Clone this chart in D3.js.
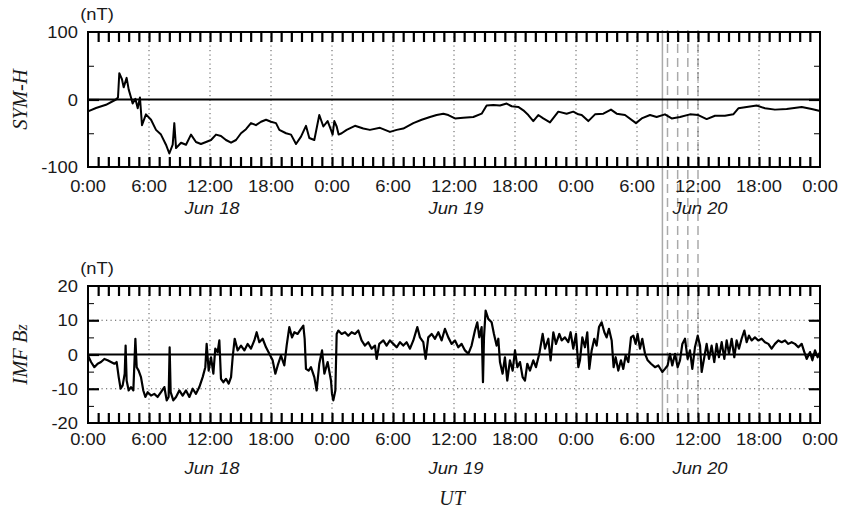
<!DOCTYPE html>
<html><head><meta charset="utf-8">
<script src="https://cdn.jsdelivr.net/npm/d3@7"></script>
<style>body{margin:0;background:#fff}</style>
</head><body><svg id="c" width="845" height="512"></svg>
<script>
// ---- data (hours since Jun 18 00:00 UT, value in nT) ----
const symhData = [[0,-17.5],[0.79,-12.6],[1.77,-7.8],[2.75,0],[2.95,3],[3.08,39],[3.34,30],[3.51,18],[3.8,32],[4.0,15],[4.23,3],[4.39,-6],[4.66,1],[4.89,-13],[5.11,3],[5.31,-38],[5.7,-22],[6.2,-30],[6.69,-45],[7.18,-52],[7.67,-67],[8.0,-80],[8.33,-67],[8.49,-35],[8.66,-72],[9.15,-64],[9.64,-67],[10.13,-52],[10.62,-63],[11.11,-66],[11.61,-63],[12.1,-60],[12.59,-52],[13.08,-54],[13.57,-60],[14.07,-64],[14.56,-60],[15.05,-50],[15.54,-44],[16.03,-35],[16.52,-38],[17.02,-33],[17.51,-30],[18.0,-33],[18.49,-35],[18.82,-45],[19.48,-50],[19.97,-52],[20.46,-66],[20.95,-55],[21.44,-39],[21.77,-57],[22.26,-60],[22.75,-23],[23.15,-40],[23.57,-32],[23.9,-45],[24.06,-52],[24.23,-32],[24.46,-40],[24.65,-52],[24.95,-50],[25.44,-45],[26.26,-39],[27.08,-43],[27.73,-45],[28.72,-42],[29.7,-48],[30.36,-45],[31.01,-43],[32.0,-35],[32.82,-30],[33.64,-26],[34.29,-23],[34.95,-21],[35.44,-23],[36.1,-28],[36.91,-27],[37.9,-26],[38.72,-21],[39.21,-9],[39.87,-8],[40.52,-9],[41.18,-6],[41.67,-10],[42.32,-11],[42.82,-16],[43.31,-23],[43.8,-32],[44.29,-23],[44.78,-28],[45.44,-34],[46.26,-18],[47.08,-21],[47.73,-18],[48.23,-22],[48.56,-23],[49.21,-32],[49.87,-22],[50.69,-21],[51.44,-15],[52.0,-21],[52.82,-23],[53.9,-35],[54.46,-28],[55.28,-23],[55.93,-26],[56.75,-22],[57.41,-28],[58.23,-26],[59.21,-22],[60.03,-23],[60.85,-29],[61.67,-24],[62.65,-24],[63.47,-22],[63.97,-13],[64.79,-11],[65.77,-9],[66.59,-13],[67.57,-15],[68.72,-14],[70.2,-11],[71.18,-14],[72,-17]];

const bzData = [[0,-0.3],[0.3,-2.2],[0.62,-3.7],[0.95,-2.7],[1.28,-2.2],[1.61,-1.3],[1.93,-1.7],[2.26,-2.2],[2.59,-2.7],[2.82,-2.2],[3.02,-6.6],[3.21,-10],[3.41,-9],[3.61,-5.6],[3.7,2.6],[3.8,-7.6],[4.0,-10.5],[4.23,-9.5],[4.46,-10.5],[4.66,4.6],[4.79,-3.7],[4.98,-4.7],[5.21,-6.6],[5.44,-10.5],[5.64,-12.4],[5.87,-11],[6.2,-12],[6.52,-11.5],[6.85,-12.4],[7.18,-11],[7.51,-9.5],[7.74,-13.4],[7.93,-12.4],[8.03,2.1],[8.13,-11],[8.39,-13.4],[8.66,-12.4],[8.98,-10.5],[9.31,-12],[9.64,-10.5],[9.97,-12.4],[10.3,-10],[10.62,-11.5],[10.95,-9.5],[11.28,-6.6],[11.54,-3.7],[11.67,3.1],[11.87,-4.7],[12.1,-0.8],[12.33,-5.6],[12.52,1.7],[12.75,0.7],[12.92,4.1],[13.08,-7.1],[13.31,-8.1],[13.57,-7.1],[13.84,-8.5],[14.07,-6.6],[14.23,-0.8],[14.43,4.6],[14.72,1.2],[15.05,2.6],[15.38,1.2],[15.7,3.1],[16.03,1.7],[16.36,4.1],[16.59,6.5],[16.85,3.6],[17.18,4.6],[17.51,2.1],[17.84,0.2],[18.16,-1.7],[18.43,-5.6],[18.66,-3.2],[18.98,-0.3],[19.31,-3.2],[19.54,2.6],[19.8,8],[20.07,5],[20.3,6.5],[20.62,6],[20.95,7.5],[21.18,8.4],[21.31,4.6],[21.44,-4.2],[21.7,-4.7],[21.93,-3.7],[22.26,-6.6],[22.49,-10.5],[22.75,-2.7],[23.02,1.2],[23.25,-5.6],[23.57,-2.2],[23.9,-7.6],[24.0,-11.5],[24.13,-13.4],[24.33,-10.5],[24.46,6],[24.62,7],[24.95,6],[25.28,6.5],[25.6,5.5],[25.93,6.5],[26.26,6],[26.59,7],[26.91,4.1],[27.24,2.6],[27.57,3.6],[27.9,1.7],[28.23,2.6],[28.39,-1.3],[28.65,3.1],[29.05,4.1],[29.37,2.6],[29.7,4.1],[30.03,3.1],[30.36,2.1],[30.69,3.6],[31.01,2.6],[31.34,3.6],[31.67,1.7],[32.0,4.1],[32.39,8],[32.65,5],[32.98,3.6],[33.21,-1.3],[33.47,5],[33.8,6],[34.13,4.6],[34.46,6.5],[34.78,4.1],[35.11,7.5],[35.44,5],[35.77,3.1],[36.1,4.1],[36.42,2.1],[36.75,3.1],[37.08,1.2],[37.41,0.2],[37.73,2.6],[38.06,7],[38.29,9.4],[38.49,5],[38.72,8],[38.85,-8.1],[38.95,5],[39.11,12.8],[39.37,10.4],[39.7,9.4],[39.93,6],[40.19,2.6],[40.36,4.6],[40.52,-2.2],[40.78,-5.6],[41.01,-0.8],[41.24,-7.6],[41.5,-1.7],[41.77,-4.7],[42.0,1.2],[42.23,-3.7],[42.49,-2.2],[42.75,-6.6],[42.98,-7.6],[43.21,-2.7],[43.47,-4.7],[43.8,-1.7],[44.06,-3.7],[44.39,0.2],[44.72,6],[44.95,1.7],[45.28,4.6],[45.5,-1.7],[45.77,6.5],[46.03,3.1],[46.36,6],[46.59,4.1],[46.91,5],[47.24,3.6],[47.47,6.5],[47.73,1.7],[48.0,6],[48.23,-3.7],[48.39,-1.7],[48.62,5],[48.88,2.1],[49.11,6.5],[49.31,-4.2],[49.54,1.2],[49.8,4.6],[50.03,2.6],[50.26,8],[50.52,9.4],[50.79,6.5],[51.01,5],[51.24,7.5],[51.51,4.1],[51.7,-3.7],[51.9,-0.8],[52.16,-4.7],[52.42,-1.7],[52.65,-4.2],[52.88,-0.3],[53.15,-2.2],[53.41,5],[53.64,5.5],[53.87,3.1],[54.06,6],[54.29,1.7],[54.52,4.6],[54.79,0.2],[55.05,-1.7],[55.38,-2.7],[55.77,-3.7],[56.1,-3.2],[56.49,-5.1],[56.75,-4.2],[57.01,-3.2],[57.24,0.2],[57.47,-3.2],[57.74,0.2],[58.0,-3.7],[58.23,-1.7],[58.46,3.1],[58.72,4.6],[58.98,-1.3],[59.21,1.2],[59.44,-4.2],[59.7,2.1],[59.97,5.5],[60.2,2.6],[60.36,-5.1],[60.62,-0.8],[60.85,3.1],[61.08,-1.3],[61.34,2.6],[61.6,-2.2],[61.83,3.1],[62.06,-0.8],[62.33,3.6],[62.59,-1.3],[62.82,4.1],[63.05,0.2],[63.31,4.6],[63.57,-0.8],[63.8,4.1],[64.03,1.7],[64.29,4.6],[64.56,7],[64.79,3.6],[65.01,5.5],[65.28,4.1],[65.6,5],[65.93,4.1],[66.26,4.6],[66.59,3.6],[66.92,3.1],[67.24,1.7],[67.57,3.1],[67.9,4.1],[68.23,3.6],[68.56,4.1],[68.88,3.1],[69.21,3.6],[69.54,3.1],[69.87,2.1],[70.2,3.1],[70.46,0.7],[70.69,-1.3],[71.02,0.7],[71.25,-1.7],[71.51,1.2],[71.77,-0.8],[72,0.7]];

const timeTickHours = [0,6,12,18,24,30,36,42,48,54,60,66,72];
const timeTickLabels = ["0:00","6:00","12:00","18:00","0:00","6:00","12:00","18:00","0:00","6:00","12:00","18:00","0:00"];
const dayLabelHours = [12,36,60];
const dayLabels = ["Jun 18","Jun 19","Jun 20"];
const symhTicks = [100,0,-100];
const symhMinor = [50,-50];
const bzTicks = [20,10,0,-10,-20];
const bzMinor = [15,5,-5,-15];
const eventSolidHours = [56.5];
const eventDashedHours = [57,58,59,60];

// ---- layout ----
const svg = d3.select("#c");
const X0 = 88, X1 = 820;
const x = d3.scaleLinear().domain([0,72]).range([X0,X1]);
const panels = [
  {data:symhData, dom:[-100,100], top:32, bot:167, ticks:symhTicks, minor:symhMinor, grid:[], major:[0],
   label:"SYM-H", tickLabY:192, dayY:214, sw:2},
  {data:bzData, dom:[-20,20], top:286, bot:423, ticks:bzTicks, minor:bzMinor, grid:[10,-10], major:[10,0,-10],
   label:"IMF Bz", tickLabY:445, dayY:474, sw:2.2}
];
const sans = "'Liberation Sans', Arial, Helvetica, sans-serif";
const serif = "'Liberation Serif', 'Times New Roman', serif";
const SX = 1.08, FS = 17;
function stext(g, tx, ty, str, anchor, size, italic) {
  return g.append("text").attr("transform", `translate(${tx},${ty}) scale(${SX},1)`)
    .attr("text-anchor", anchor).attr("font-family", sans).attr("font-size", size)
    .attr("font-style", italic ? "italic" : "normal").attr("fill", "#1a1a1a").text(str);
}

// event lines (behind data)
const evG = svg.append("g");
eventSolidHours.forEach(h => evG.append("line").attr("x1", x(h)).attr("x2", x(h))
  .attr("y1", 30).attr("y2", 423).attr("stroke", "#aaa").attr("stroke-width", 1.5));
eventDashedHours.forEach(h => evG.append("line").attr("x1", x(h)).attr("x2", x(h))
  .attr("y1", 30).attr("y2", 423).attr("stroke", "#aaa").attr("stroke-width", 1.5)
  .attr("stroke-dasharray", "9,5"));

panels.forEach(p => {
  const y = d3.scaleLinear().domain(p.dom).range([p.bot, p.top]);
  const g = svg.append("g");
  timeTickHours.slice(1,-1).forEach(h => g.append("line")
    .attr("x1", x(h)).attr("x2", x(h)).attr("y1", p.top).attr("y2", p.bot)
    .attr("stroke", "#555").attr("stroke-width", 1).attr("stroke-dasharray", "1.2,3.3"));
  p.grid.forEach(v => g.append("line").attr("x1", X0).attr("x2", X1)
    .attr("y1", y(v)).attr("y2", y(v)).attr("stroke", "#555").attr("stroke-width", 1)
    .attr("stroke-dasharray", "1.2,3.3"));
  g.append("line").attr("x1", X0).attr("x2", X1).attr("y1", y(0)).attr("y2", y(0))
    .attr("stroke", "#000").attr("stroke-width", 2);
  const line = d3.line().x(d => x(d[0])).y(d => y(d[1]));
  g.append("path").datum(p.data).attr("d", line).attr("fill", "none")
    .attr("stroke", "#000").attr("stroke-width", p.sw).attr("stroke-linejoin", "round");
  const hours = d3.range(1,72);
  const at = g.append("g").attr("transform", `translate(0,${p.top})`)
    .call(d3.axisTop(x).tickValues(hours).tickSize(-10).tickFormat(""));
  const ab = g.append("g").attr("transform", `translate(0,${p.bot})`)
    .call(d3.axisBottom(x).tickValues(hours).tickSize(-10).tickFormat(""));
  [at, ab].forEach(a => { a.select(".domain").remove();
    a.selectAll("line").attr("stroke", "#000").attr("stroke-width", 2.2); });
  const al = g.append("g").attr("transform", `translate(${X0},0)`)
    .call(d3.axisLeft(y).tickValues(p.minor).tickSize(-6).tickFormat(""));
  const ar = g.append("g").attr("transform", `translate(${X1},0)`)
    .call(d3.axisRight(y).tickValues(p.minor).tickSize(-6).tickFormat(""));
  [al, ar].forEach(a => { a.select(".domain").remove();
    a.selectAll("line").attr("stroke", "#000").attr("stroke-width", 1); });
  const ml = g.append("g").attr("transform", `translate(${X0},0)`)
    .call(d3.axisLeft(y).tickValues(p.major).tickSize(-11).tickFormat(""));
  const mr = g.append("g").attr("transform", `translate(${X1},0)`)
    .call(d3.axisRight(y).tickValues(p.major).tickSize(-11).tickFormat(""));
  [ml, mr].forEach(a => { a.select(".domain").remove();
    a.selectAll("line").attr("stroke", "#000").attr("stroke-width", 2.2); });
  g.append("rect").attr("x", X0).attr("y", p.top).attr("width", X1 - X0).attr("height", p.bot - p.top)
    .attr("fill", "none").attr("stroke", "#000").attr("stroke-width", 2);
  p.ticks.forEach(v => stext(g, 78, y(v) + 6, String(v), "end", FS, false));
  stext(g, 97, p.top - 12, "(nT)", "middle", FS, false);
  timeTickHours.forEach((h, i) => stext(g, x(h), p.tickLabY, timeTickLabels[i], "middle", FS, false));
  dayLabelHours.forEach((h, i) => stext(g, x(h) + 2, p.dayY, dayLabels[i], "middle", FS, true));
  const cy = (p.top + p.bot) / 2;
  const t = g.append("text").attr("transform", `translate(27,${cy}) rotate(-90)`)
    .attr("text-anchor", "middle").attr("font-family", serif).attr("font-style", "italic")
    .attr("font-size", 20.5).attr("fill", "#1a1a1a");
  if (p.label === "IMF Bz") {
    t.append("tspan").text("IMF B");
    t.append("tspan").attr("font-size", 16).text("z");
  } else t.text(p.label);
});
svg.append("text").attr("x", 452).attr("y", 505).attr("text-anchor", "middle")
  .attr("font-family", serif).attr("font-style", "italic").attr("font-size", 20)
  .attr("fill", "#1a1a1a").text("UT");
</script></body></html>
